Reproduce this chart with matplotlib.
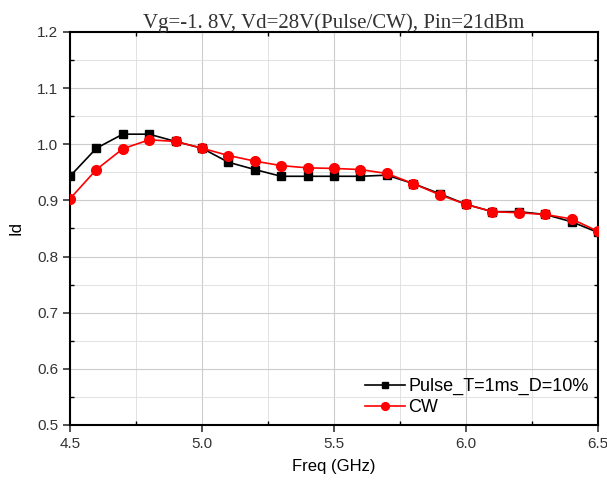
import matplotlib.pyplot as plt
import numpy as np
from matplotlib.ticker import MultipleLocator

plt.rcParams['font.family'] = ['Liberation Sans', 'DejaVu Sans']

freq = [4.5, 4.6, 4.7, 4.8, 4.9, 5.0, 5.1, 5.2, 5.3, 5.4, 5.5,
        5.6, 5.7, 5.8, 5.9, 6.0, 6.1, 6.2, 6.3, 6.4, 6.5]
idPulse = [0.943, 0.993, 1.018, 1.018, 1.005, 0.993, 0.968, 0.955, 0.943, 0.943, 0.943,
           0.943, 0.945, 0.930, 0.912, 0.893, 0.880, 0.880, 0.875, 0.862, 0.843]
idCW = [0.903, 0.955, 0.992, 1.008, 1.005, 0.993, 0.980, 0.970, 0.962, 0.958, 0.957,
        0.955, 0.948, 0.930, 0.910, 0.893, 0.880, 0.878, 0.875, 0.867, 0.845]

titleText = "Vg=-1. 8V, Vd=28V(Pulse/CW), Pin=21dBm"

fig = plt.figure(figsize=(6.07, 4.86), dpi=100)
ax = fig.add_axes([70/607, 1-425/486, 528/607, 393/486])

ax.plot(freq, idPulse, '-s', color='black', ms=6, lw=1.2,
        label="Pulse_T=1ms_D=10%", zorder=3)
ax.plot(freq, idCW, '-o', color='red', ms=7, lw=1.2,
        label="CW", zorder=4)

ax.set_xlim(4.5, 6.5)
ax.set_ylim(0.5, 1.2)
ax.xaxis.set_major_locator(MultipleLocator(0.5))
ax.xaxis.set_minor_locator(MultipleLocator(0.25))
ax.yaxis.set_major_locator(MultipleLocator(0.1))
ax.yaxis.set_minor_locator(MultipleLocator(0.05))
ax.xaxis.set_major_formatter(plt.FormatStrFormatter('%.1f'))
ax.yaxis.set_major_formatter(plt.FormatStrFormatter('%.1f'))

ax.grid(which='major', color='#cccccc', lw=0.8)
ax.grid(which='minor', color='#dddddd', lw=0.6)
ax.set_axisbelow(True)

ax.tick_params(which='major', direction='out', length=5, width=1.2, labelsize=11, colors='#333333')
ax.tick_params(which='minor', direction='in', length=3, width=1, right=True, top=True)
for s in ax.spines.values():
    s.set_linewidth(1.5)

ax.set_xlabel("Freq (GHz)", fontsize=12, labelpad=6)
ax.set_ylabel("Id", fontsize=12, labelpad=10)
ax.set_title(titleText, family='Liberation Serif', fontsize=15, pad=3, color='#333333')

leg = ax.legend(loc='lower right', frameon=False, fontsize=13, handlelength=2.2,
                handletextpad=0.2, borderaxespad=0.1, labelspacing=0.2, markerscale=0.8)

plt.savefig("out.png", dpi=100)
